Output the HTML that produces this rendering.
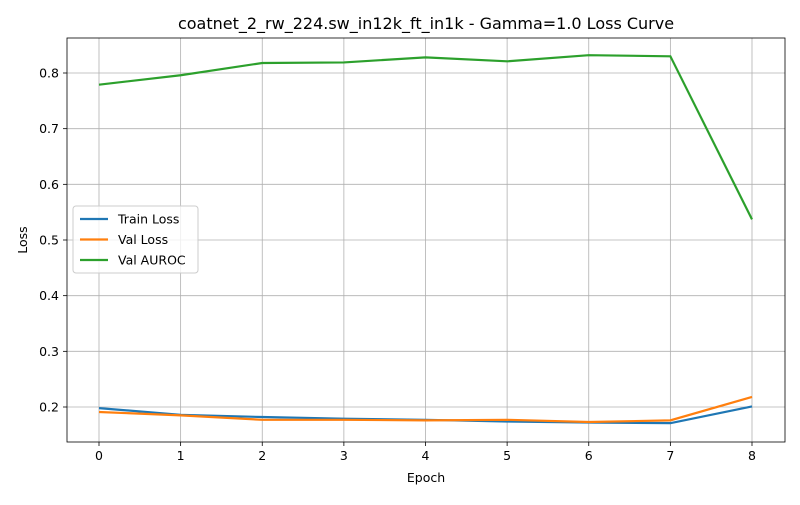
<!DOCTYPE html>
<html><head><meta charset="utf-8"><style>
body{margin:0;background:#fff;font-family:"Liberation Sans","DejaVu Sans",sans-serif;}
svg text{font-family:"DejaVu Sans","Liberation Sans",sans-serif;}
</style></head><body>
<svg id="chart" width="800" height="500" xmlns="http://www.w3.org/2000/svg"></svg>
<script>
const epochs=[0,1,2,3,4,5,6,7,8];
const trainLoss=[0.198,0.186,0.182,0.179,0.177,0.174,0.172,0.171,0.201];
const valLoss=[0.191,0.185,0.177,0.177,0.176,0.177,0.173,0.176,0.218];
const valAuroc=[0.779,0.796,0.818,0.819,0.828,0.821,0.832,0.830,0.537];
const yTicks=[0.2,0.3,0.4,0.5,0.6,0.7,0.8];
const xTicks=[0,1,2,3,4,5,6,7,8];
const svg=document.getElementById('chart');
const NS='http://www.w3.org/2000/svg';
const L=67,R=785,T=38,B=442;
const xs=e=>99+e*(752-99)/8;
const ys=v=>407-(v-0.2)*(407-73)/0.6;
function mk(tag,attrs,name){const el=document.createElementNS(NS,tag);for(const k in attrs)el.setAttribute(k,attrs[k]);


svg.appendChild(el);return el;}
xTicks.forEach(t=>{mk('line',{x1:xs(t),x2:xs(t),y1:T,y2:B,stroke:'#b0b0b0','stroke-width':0.8},'x-gridline');
mk('line',{x1:xs(t),x2:xs(t),y1:B,y2:B+4,stroke:'#000','stroke-width':0.8},'x-tick');
const tx=mk('text',{x:xs(t),y:B+18,'text-anchor':'middle','font-size':12.5},'x-tick-label');tx.textContent=t;});
yTicks.forEach(t=>{mk('line',{x1:L,x2:R,y1:ys(t),y2:ys(t),stroke:'#b0b0b0','stroke-width':0.8},'y-gridline');
mk('line',{x1:L-4,x2:L,y1:ys(t),y2:ys(t),stroke:'#000','stroke-width':0.8},'y-tick');
const tx=mk('text',{x:L-8,y:ys(t)+4.5,'text-anchor':'end','font-size':12.5},'y-tick-label');tx.textContent=t.toFixed(1);});
mk('rect',{x:L,y:T,width:R-L,height:B-T,fill:'none',stroke:'#000','stroke-width':0.8},'plot-frame');
const series=[[trainLoss,'#1f77b4','train-loss-line'],[valLoss,'#ff7f0e','val-loss-line'],[valAuroc,'#2ca02c','val-auroc-line']];
series.forEach(([d,c,n])=>{mk('polyline',{points:d.map((v,i)=>xs(epochs[i])+','+ys(v)).join(' '),fill:'none',stroke:c,'stroke-width':2.2},n);});
let t=mk('text',{x:426,y:29,'text-anchor':'middle','font-size':16},'chart-title');t.textContent='coatnet_2_rw_224.sw_in12k_ft_in1k - Gamma=1.0 Loss Curve';
t=mk('text',{x:426,y:482,'text-anchor':'middle','font-size':12.5},'x-axis-title');t.textContent='Epoch';
t=mk('text',{x:27,y:240,'text-anchor':'middle','font-size':12.5,transform:'rotate(-90 27 240)'},'y-axis-title');t.textContent='Loss';
mk('rect',{x:73,y:206,width:125,height:67,fill:'#fff','fill-opacity':0.8,stroke:'#ccc',rx:3},'legend-box');
const labels=['Train Loss','Val Loss','Val AUROC'];
series.forEach(([d,c,n],i)=>{const y=219+i*20.5;
mk('line',{x1:80,x2:108,y1:y,y2:y,stroke:c,'stroke-width':2.2},'legend-swatch');
const tx=mk('text',{x:118,y:y+4.5,'font-size':12.5},'legend-entry');tx.textContent=labels[i];});
</script>
</body></html>
